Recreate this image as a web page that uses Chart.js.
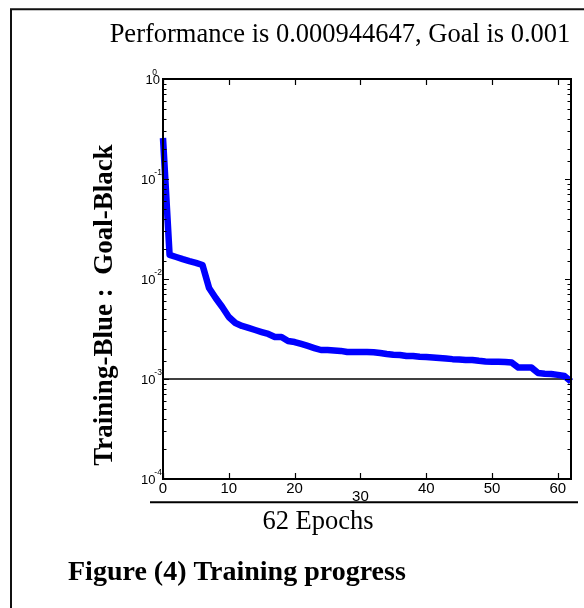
<!DOCTYPE html>
<html><head><meta charset="utf-8">
<script src="https://cdn.jsdelivr.net/npm/chart.js@4/dist/chart.umd.min.js"></script>
<style>html,body{margin:0;padding:0;background:#fff;}canvas{display:block;}</style>
</head><body>
<canvas id="c" width="584" height="608"></canvas>
<script>
const titleText = 'Performance is 0.000944647, Goal is 0.001';
const xAxisTitle = '62 Epochs';
const yAxisTitle = 'Training-Blue :  Goal-Black';
const captionText = 'Figure (4) Training progress';
const goal = 0.001;
const epochCount = 62;
const xTicks = [0, 10, 20, 30, 40, 50, 60];
const yTickValues = [1, 0.1, 0.01, 0.001, 0.0001];
const yTickExponents = ['0', '-1', '-2', '-3', '-4'];
const trainingPerf = [
  0.257, 0.0174, 0.0166, 0.0158, 0.0151, 0.0145, 0.0138, 0.00813, 0.00646, 0.00525,
  0.00417, 0.00363, 0.00339, 0.00324, 0.00309, 0.00295, 0.00282, 0.00263, 0.00263, 0.00240,
  0.00234, 0.00224, 0.00214, 0.00204, 0.00195, 0.00195, 0.00193, 0.00191, 0.00186, 0.00186,
  0.00186, 0.00186, 0.00185, 0.00182, 0.00178, 0.00175, 0.00174, 0.00170, 0.00170, 0.00167,
  0.00166, 0.00164, 0.00162, 0.00160, 0.00158, 0.00157, 0.00155, 0.00155, 0.00152, 0.00150,
  0.00149, 0.00149, 0.00148, 0.00146, 0.00130, 0.00130, 0.00130, 0.00115, 0.00113, 0.00112,
  0.00110, 0.00107, 0.000944647
];

const decor = {
  id: 'decor',
  beforeDraw(chart) {
    const ctx = chart.ctx;
    ctx.save();
    ctx.fillStyle = '#fff';
    ctx.fillRect(0, 0, chart.width, chart.height);
    ctx.restore();
  },
  afterDraw(chart) {
    const ctx = chart.ctx;
    const a = chart.chartArea;
    const xs = chart.scales.x, ys = chart.scales.y;
    ctx.save();
    // page frame
    ctx.strokeStyle = '#111';
    ctx.lineWidth = 2;
    ctx.beginPath();
    ctx.moveTo(11, 608); ctx.lineTo(11, 9.3); ctx.lineTo(584, 9.3);
    ctx.stroke();
    // axes box
    ctx.strokeStyle = '#000';
    ctx.lineWidth = 2;
    ctx.strokeRect(a.left, a.top, a.right - a.left, a.bottom - a.top);
    // x ticks (inward, top and bottom)
    ctx.lineWidth = 1.2;
    ctx.beginPath();
    xs.ticks.forEach(t => {
      const px = Math.round(xs.getPixelForValue(t.value)) + 0.5;
      ctx.moveTo(px, a.bottom); ctx.lineTo(px, a.bottom - 6);
      ctx.moveTo(px, a.top); ctx.lineTo(px, a.top + 6);
    });
    // y ticks (major and minor, inward, left and right)
    ys.ticks.forEach(t => {
      const lg = Math.log10(t.value);
      const major = Math.abs(lg - Math.round(lg)) < 1e-6;
      const len = major ? 6 : 3.5;
      const py = Math.round(ys.getPixelForValue(t.value)) + 0.5;
      ctx.moveTo(a.left, py); ctx.lineTo(a.left + len, py);
      ctx.moveTo(a.right, py); ctx.lineTo(a.right - len, py);
    });
    ctx.stroke();
    // y tick labels 10^n
    ctx.fillStyle = '#000';
    yTickValues.forEach((v, i) => {
      const py = ys.getPixelForValue(v);
      const exp = yTickExponents[i];
      const single = exp.length === 1;
      ctx.font = '13px "Liberation Sans"';
      ctx.textAlign = 'right';
      ctx.textBaseline = 'alphabetic';
      ctx.fillText('10', single ? 160 : 155.5, py + 4.8);
      ctx.font = '8.5px "Liberation Sans"';
      ctx.textAlign = single ? 'center' : 'left';
      ctx.fillText(exp, single ? 154.7 : 154.3, py - 4);
    });
    // title
    ctx.font = '26.5px "Liberation Serif"';
    ctx.textAlign = 'center';
    ctx.textBaseline = 'alphabetic';
    ctx.fillText(titleText, 340, 42);
    // separator line and x title
    ctx.lineWidth = 2;
    ctx.beginPath();
    ctx.moveTo(150, 502.3); ctx.lineTo(578, 502.3);
    ctx.stroke();
    ctx.fillText(xAxisTitle, 318, 529);
    // caption
    ctx.font = 'bold 28px "Liberation Serif"';
    ctx.textAlign = 'left';
    ctx.fillText(captionText, 68, 580);
    // y title
    ctx.translate(112, 305);
    ctx.rotate(-Math.PI / 2);
    ctx.font = 'bold 27px "Liberation Serif"';
    ctx.textAlign = 'center';
    ctx.fillText(yAxisTitle, 0, 0);
    ctx.restore();
  }
};

new Chart(document.getElementById('c').getContext('2d'), {
  type: 'line',
  data: {
    datasets: [
      {
        data: trainingPerf.map((v, i) => ({ x: i, y: v })),
        borderColor: '#0000ff', borderWidth: 6.5, pointRadius: 0,
        borderJoinStyle: 'round', tension: 0, clip: 5, order: 1
      },
      {
        data: [{ x: 0, y: goal }, { x: epochCount, y: goal }],
        borderColor: '#000', borderWidth: 1.5, pointRadius: 0, order: 2
      }
    ]
  },
  options: {
    responsive: false, animation: false, devicePixelRatio: 1,
    layout: { padding: { left: 0, top: 79, right: 13, bottom: 0 } },
    plugins: { legend: { display: false }, tooltip: { enabled: false }, title: { display: false } },
    scales: {
      x: {
        type: 'linear', min: 0, max: epochCount,
        afterFit: s => { s.height = 129; },
        afterBuildTicks: s => { s.ticks = xTicks.map(v => ({ value: v })); },
        grid: { display: false, drawTicks: false }, border: { display: false },
        ticks: {
          padding: 2, color: '#000', maxRotation: 0, autoSkip: false,
          font: c => ({ family: 'Liberation Sans', size: 15, lineHeight: (c.tick && c.tick.value === 30) ? 0.7 : 1.1 }),
          callback: v => v === 30 ? ['', String(v)] : String(v)
        }
      },
      y: {
        type: 'logarithmic', min: 1e-4, max: 1,
        afterFit: s => { s.width = 163; },
        grid: { display: false, drawTicks: false }, border: { display: false },
        ticks: { display: false }
      }
    }
  },
  plugins: [decor]
});
</script>
</body></html>
